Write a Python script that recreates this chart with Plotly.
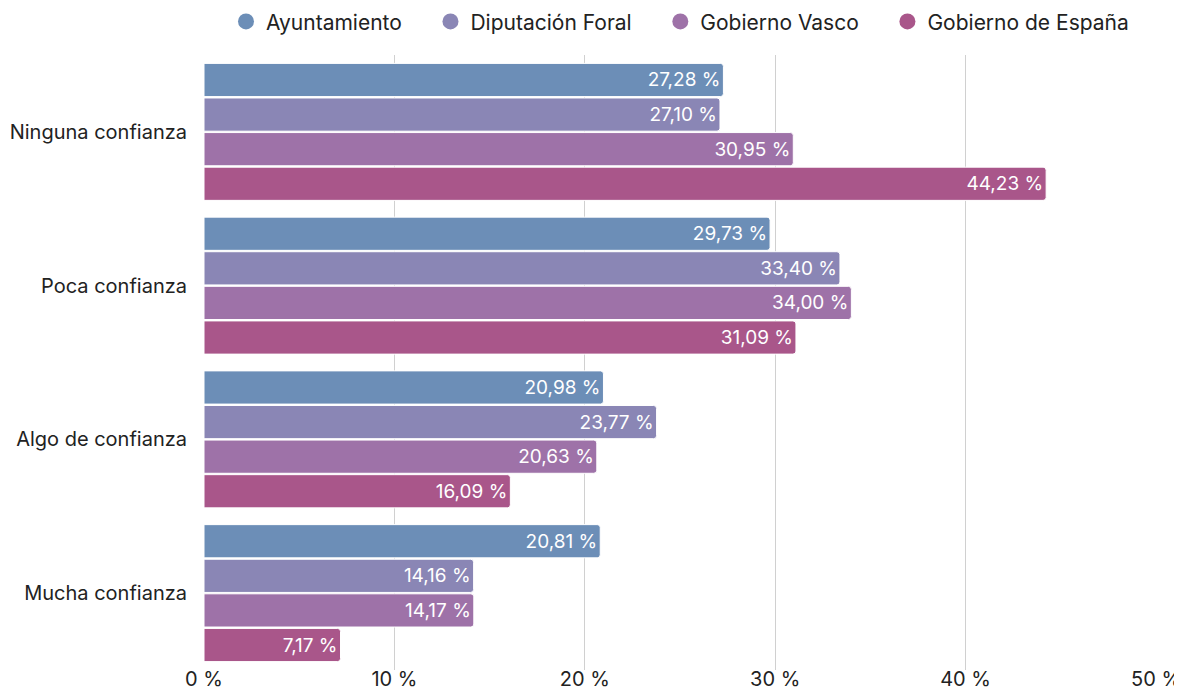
import plotly.graph_objects as go

categories = ["Ninguna confianza", "Poca confianza", "Algo de confianza", "Mucha confianza"]
series_names = ["Ayuntamiento", "Diputación Foral", "Gobierno Vasco", "Gobierno de España"]
ayuntamiento = [27.28, 29.73, 20.98, 20.81]
diputacion = [27.10, 33.40, 23.77, 14.16]
gobierno_vasco = [30.95, 34.00, 20.63, 14.17]
gobierno_espana = [44.23, 31.09, 16.09, 7.17]
colors = ["#6C8EB7", "#8A86B5", "#9E72A8", "#A9568A"]
tick_vals = [0, 10, 20, 30, 40, 50]
tick_text = ["0 %", "10 %", "20 %", "30 %", "40 %", "50 %"]

FONT = "Inter"
fig = go.Figure()
for name, vals, col in zip(series_names, [ayuntamiento, diputacion, gobierno_vasco, gobierno_espana], colors):
    fig.add_trace(go.Bar(
        y=categories, x=vals, name=name, orientation="h", showlegend=False,
        marker=dict(color=col, line=dict(color="white", width=1)),
        texttemplate="%{x:.2f} %", textposition="inside", insidetextanchor="end",
        textfont=dict(color="white", size=19, family=FONT),
    ))
pad = "\u00a0" * 4
for i, (name, col) in enumerate(zip(series_names, colors)):
    label = name + (pad if i < len(series_names) - 1 else "")
    fig.add_trace(go.Scatter(
        x=[None], y=[None], mode="markers", name=label, showlegend=True,
        marker=dict(color=col, size=19, symbol="circle"),
    ))

fig.update_layout(
    width=1174, height=683,
    margin=dict(l=196, r=26, t=47, b=21, autoexpand=False),
    paper_bgcolor="white", plot_bgcolor="white",
    barmode="group", bargap=0.1, bargroupgap=0.04, barcornerradius=3,
    separators=", ",
    font=dict(family=FONT, color="#222", size=18),
    legend=dict(orientation="h", x=0.5, xanchor="center", y=1.054, yanchor="middle",
                font=dict(size=21, family=FONT), itemsizing="trace",
                traceorder="normal", itemwidth=30),
    xaxis=dict(range=[0, 50], tickvals=tick_vals, ticktext=tick_text, showgrid=True,
               gridcolor="#d0d0d0", gridwidth=1, zeroline=False, showline=False,
               tickfont=dict(size=20, family=FONT, color="#222"), ticks="", automargin=False,
               ticklabelstandoff=-5),
    yaxis=dict(autorange="reversed", showgrid=False, ticks="", ticklabelstandoff=16, automargin=False,
               tickfont=dict(size=20, family=FONT, color="#222")),
)
fig.write_html("out.html")
